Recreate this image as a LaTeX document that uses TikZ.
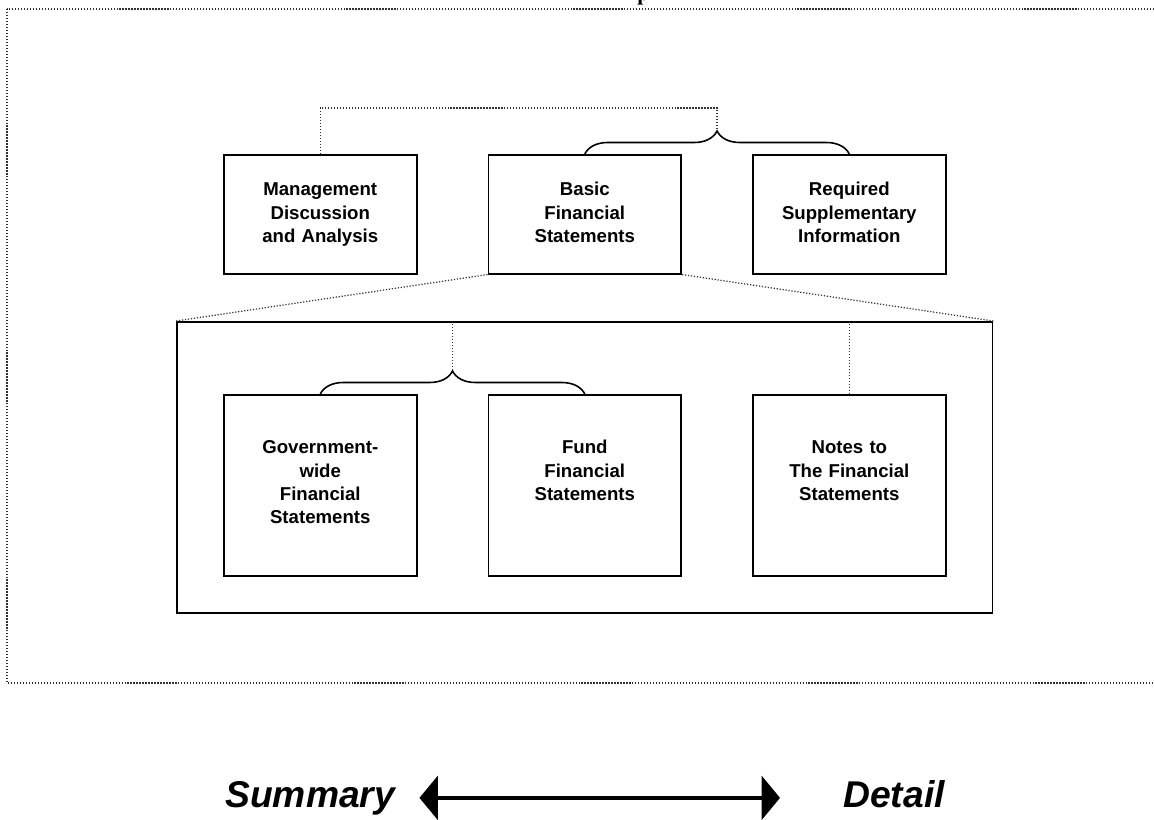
\documentclass[tikz,border=0pt]{standalone}
\usepackage{fontspec}
\setmainfont{Liberation Sans}
\newfontfamily\titlefont{Liberation Serif}
\usetikzlibrary{arrows.meta,positioning,calc,decorations.pathreplacing}

\begin{document}
\begin{tikzpicture}[x=0.02cm,y=-0.02cm,node distance=1.4cm,>=Latex,
  topbox/.style={draw,line width=0.9pt,text width=3.86cm,inner xsep=0pt,inner ysep=0pt,align=center,text height=0.82cm,text depth=1.56cm,font=\fontsize{10.6}{13.3}\selectfont\bfseries},
  lowbox/.style={topbox,text height=1.18cm,text depth=2.44cm},
  link/.style={line width=0.7pt,dash pattern=on 0.7pt off 1pt,draw=black!80},
  curly/.style={decorate,decoration={brace,amplitude=0.46cm},line width=0.9pt},
  ends/.style={inner sep=0pt,anchor=base west,font=\fontsize{21.2}{25}\selectfont\bfseries\itshape}]
\useasboundingbox (0,0) rectangle (1154,819);
\draw[link] (7,9) rectangle (1170,683);
\node[anchor=base west,inner sep=0pt,font=\titlefont\fontsize{12.4}{14}\selectfont\bfseries] (title) at (637,0) {p};
\node[topbox,anchor=north west] (mda) at (223,154) {Management\\Discussion\\and Analysis};
\node[topbox,right=of mda] (bfs) {Basic\\Financial\\Statements};
\node[topbox,right=of bfs] (rsi) {Required\\Supplementary\\Information};
\node[draw,line width=0.9pt,minimum width=16.32cm,minimum height=5.82cm,anchor=north west] (panel) at (176,321) {};
\node[lowbox,anchor=north west] (gwfs) at (223,394) {Government-\\wide\\Financial\\Statements};
\node[lowbox,right=of gwfs] (ffs) {Fund\\Financial\\Statements};
\node[lowbox,right=of ffs] (notes) {Notes to\\The Financial\\Statements};
\draw[curly] (bfs.north) -- (rsi.north);
\coordinate (toptip) at ($(bfs.north)!.5!(rsi.north)+(0,-23)$);
\draw[link] (mda.north) -- ++(0,-46) -| (toptip);
\draw[link] (bfs.south west) -- (panel.north west);
\draw[link] (bfs.south east) -- (panel.north east);
\draw[curly] (gwfs.north) -- (ffs.north);
\coordinate (lowtip) at ($(gwfs.north)!.5!(ffs.north)+(0,-23)$);
\draw[link] (lowtip |- panel.north) -- (lowtip);
\draw[link] (notes.north |- panel.north) -- (notes.north);
\node[ends] (summary) at (225,807) {Summary};
\node[ends] (detail) at (843,807) {Detail};
\draw[{Triangle[length=0.37cm,width=0.88cm]}-{Triangle[length=0.37cm,width=0.88cm]},line width=2pt,shorten <=0.48cm,shorten >=1.26cm] (summary.east) -- (summary.east -| detail.west);
\end{tikzpicture}
\end{document}
